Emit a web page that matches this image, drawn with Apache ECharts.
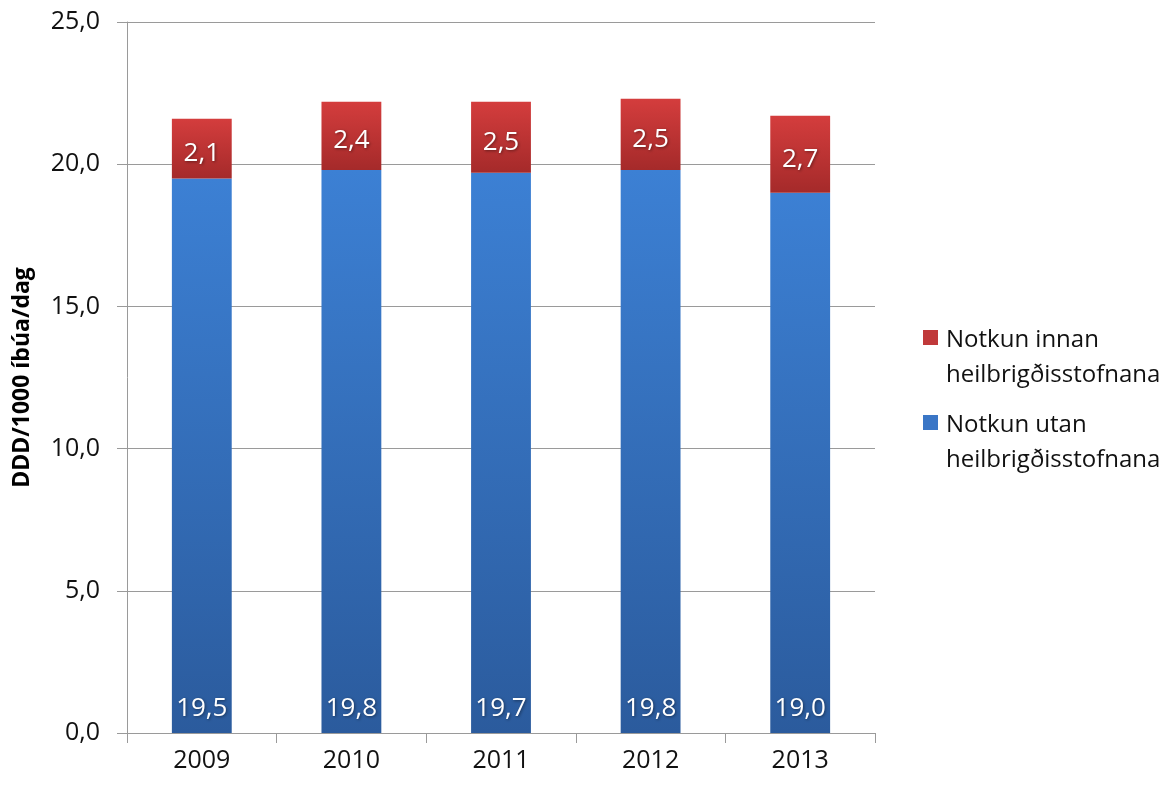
<!DOCTYPE html>
<html>
<head>
<meta charset="utf-8">
<script src="https://cdn.jsdelivr.net/npm/echarts@6/dist/echarts.min.js"></script>
<style>
  html, body { margin: 0; padding: 0; background: #fff; }
  #chart { width: 1176px; height: 787px; }
</style>
</head>
<body>
<div id="chart"></div>
<script>
// Ár
const years = ['2009', '2010', '2011', '2012', '2013'];
// Notkun utan heilbrigðisstofnana (DDD/1000 íbúa/dag)
const utan = [19.5, 19.8, 19.7, 19.8, 19.0];
// Notkun innan heilbrigðisstofnana (DDD/1000 íbúa/dag)
const innan = [2.1, 2.4, 2.5, 2.5, 2.7];
const seriesNames = ['Notkun innan heilbrigðisstofnana', 'Notkun utan heilbrigðisstofnana'];

const FONT = '"Open Sans", "DejaVu Sans", sans-serif';
const fmt = v => v.toFixed(1).replace('.', ',');

// Legend marker: a square aligned with the first line of a two-line label
const legendIcon = 'path://M0,0h0.01v0.01h-0.01Z M0,7h15v15h-15Z M0,69.99h0.01v0.01h-0.01Z';

const grad = (top, bottom) => new echarts.graphic.LinearGradient(0, 0, 0, 1, [
  { offset: 0, color: top },
  { offset: 1, color: bottom }
]);

const valueLabel = {
  show: true,
  color: '#ffffff',
  fontFamily: FONT,
  fontSize: 26,
  textShadowColor: 'rgba(0,0,0,0.45)',
  textShadowBlur: 3,
  textShadowOffsetX: 1,
  textShadowOffsetY: 1,
  formatter: p => fmt(p.value)
};

const chart = echarts.init(document.getElementById('chart'), null, { renderer: 'canvas' });
chart.setOption({
  backgroundColor: '#ffffff',
  animation: false,
  grid: { left: 127, right: 301, top: 22, bottom: 54, containLabel: false },
  legend: {
    orient: 'vertical',
    left: 918,
    top: 318,
    itemWidth: 15,
    itemHeight: 70,
    itemGap: 15,
    selectedMode: false,
    icon: legendIcon,
    data: [
      { name: seriesNames[0], itemStyle: { color: '#c0393a' } },
      { name: seriesNames[1], itemStyle: { color: '#3a76c6' } }
    ],
    formatter: name => name.replace(' heil', '\nheil'),
    textStyle: {
      fontFamily: FONT,
      fontSize: 24,
      color: '#111111',
      lineHeight: 35,
      padding: [0, 0, 0, 3]
    }
  },
  xAxis: {
    type: 'category',
    data: years,
    axisLine: { show: true, lineStyle: { color: '#9a9a9a', width: 1 } },
    axisTick: { show: true, length: 10, alignWithLabel: false, lineStyle: { color: '#9a9a9a' } },
    axisLabel: { color: '#111111', fontFamily: FONT, fontSize: 25, margin: 15 }
  },
  yAxis: {
    type: 'value',
    min: 0,
    max: 25,
    interval: 5,
    name: 'DDD/1000 íbúa/dag',
    nameLocation: 'middle',
    nameRotate: 90,
    nameGap: 93,
    nameTextStyle: { fontFamily: FONT, fontSize: 23, fontWeight: 'bold', color: '#000' },
    axisLine: { show: true, lineStyle: { color: '#9a9a9a', width: 1 } },
    axisTick: { show: true, length: 10, lineStyle: { color: '#9a9a9a' } },
    splitLine: { show: true, lineStyle: { color: '#9a9a9a', width: 1 } },
    axisLabel: { color: '#111111', fontFamily: FONT, fontSize: 25, margin: 27, formatter: v => fmt(v) }
  },
  series: [
    {
      name: seriesNames[1],
      type: 'bar',
      stack: 'total',
      data: utan,
      barWidth: '40%',
      itemStyle: { color: grad('#3c80d4', '#2b5b9d') },
      label: Object.assign({}, valueLabel, { position: 'insideBottom', distance: 11 })
    },
    {
      name: seriesNames[0],
      type: 'bar',
      stack: 'total',
      data: innan,
      barWidth: '40%',
      itemStyle: { color: grad('#d43d3d', '#a52a2a') },
      label: Object.assign({}, valueLabel, { position: 'inside', offset: [0, 5] })
    }
  ]
});
</script>
</body>
</html>
